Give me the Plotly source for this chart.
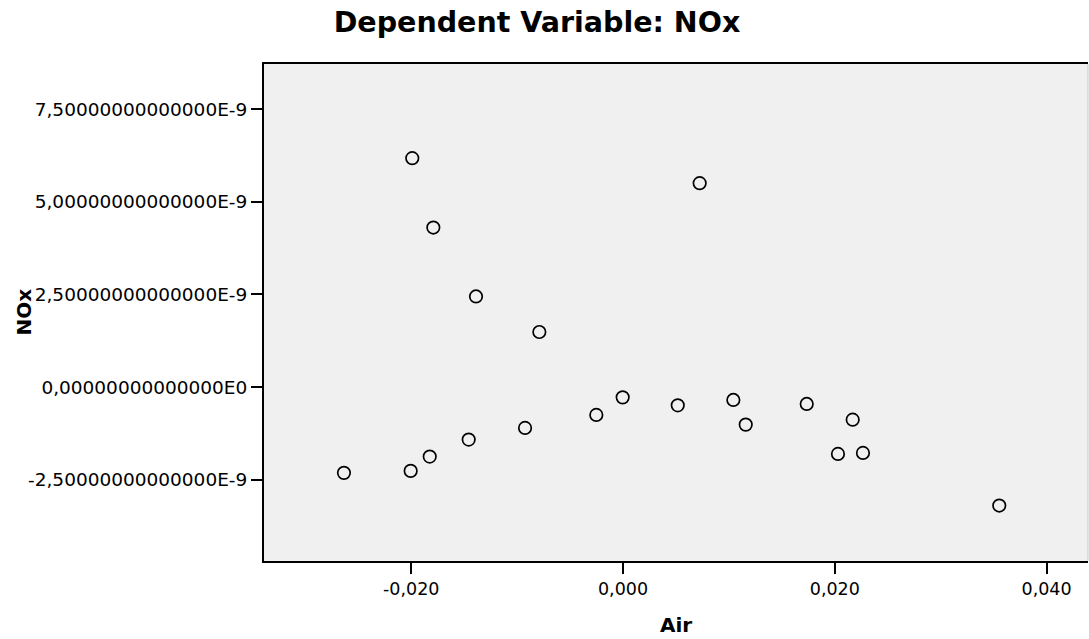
import plotly.graph_objects as go

# Data (Air residual vs NOx residual)
air = [-0.02635, -0.01990, -0.01791, -0.01388, -0.00790, -0.00925, -0.01457,
       -0.01825, -0.02005, 0.00724, -0.00003, -0.00252, 0.00517, 0.01042,
       0.01159, 0.01735, 0.02169, 0.02030, 0.02266, 0.03553]
nox = [-2.311e-9, 6.175e-9, 4.305e-9, 2.446e-9, 1.487e-9, -1.099e-9, -1.414e-9,
       -1.872e-9, -2.258e-9, 5.501e-9, -0.275e-9, -0.749e-9, -0.490e-9, -0.345e-9,
       -1.010e-9, -0.453e-9, -0.876e-9, -1.800e-9, -1.773e-9, -3.192e-9]

x_tickvals = [-0.02, 0.0, 0.02, 0.04]
x_ticktext = ["-0,020", "0,000", "0,020", "0,040"]
y_tickvals = [-2.5e-9, 0.0, 2.5e-9, 5e-9, 7.5e-9]
y_ticktext = ["-2,50000000000000E-9", "0,00000000000000E0", "2,50000000000000E-9",
              "5,00000000000000E-9", "7,50000000000000E-9"]

W, H = 1089, 639
L, R, T, B = 264, 1088, 64, 561

fig = go.Figure()
fig.add_trace(go.Scatter(
    x=air, y=nox, mode="markers",
    marker=dict(symbol="circle-open", size=12.5, color="black", line=dict(width=1.7, color="black")),
    showlegend=False, hoverinfo="x+y"))

font_family = "DejaVu Sans, Liberation Sans, Arial, sans-serif"

fig.update_layout(
    width=W, height=H,
    margin=dict(l=L, r=W - R, t=T, b=H - B, pad=0),
    paper_bgcolor="white", plot_bgcolor="#f0f0f0",
    font=dict(family=font_family, color="black", size=18),
    title=dict(text="<b>Dependent Variable: NOx</b>", xref="container", yref="container",
               x=537 / W, y=1 - 22 / H, xanchor="center", yanchor="middle",
               font=dict(size=28.5, family=font_family, color="black")),
)
fig.update_xaxes(
    range=[-0.03390, 0.04391], tickvals=x_tickvals, ticktext=x_ticktext,
    showgrid=False, zeroline=False, showline=True, linecolor="black", linewidth=2,
    mirror=True, ticks="outside", ticklen=11, tickwidth=2, tickcolor="black",
    tickfont=dict(size=17.5),
)
fig.update_yaxes(
    range=[-4.688e-9, 8.715e-9], tickvals=y_tickvals, ticktext=y_ticktext,
    showgrid=False, zeroline=False, showline=True, linecolor="black", linewidth=2,
    mirror=False, ticks="outside", ticklen=11, tickwidth=2, tickcolor="black",
    tickfont=dict(size=18.5),
)
pw, ph = R - L, B - T
fig.add_annotation(text="<b>Air</b>", xref="paper", yref="paper",
                   x=0.5, y=(B - 625) / ph, xanchor="center", yanchor="middle",
                   showarrow=False, font=dict(size=20, family=font_family, color="black"))
fig.add_annotation(text="<b>NOx</b>", xref="paper", yref="paper",
                   x=(23 - L) / pw, y=0.5, xanchor="center", yanchor="middle",
                   textangle=-90, showarrow=False,
                   font=dict(size=20, family=font_family, color="black"))
# light right edge of the frame (clipped in the reference)
fig.add_shape(type="line", xref="paper", yref="paper", x0=1, x1=1, y0=0, y1=1,
              line=dict(color="#c8c8c8", width=1))

fig.write_html("out.html", config={"displayModeBar": False},
               post_script="document.body.style.margin='0px';")
